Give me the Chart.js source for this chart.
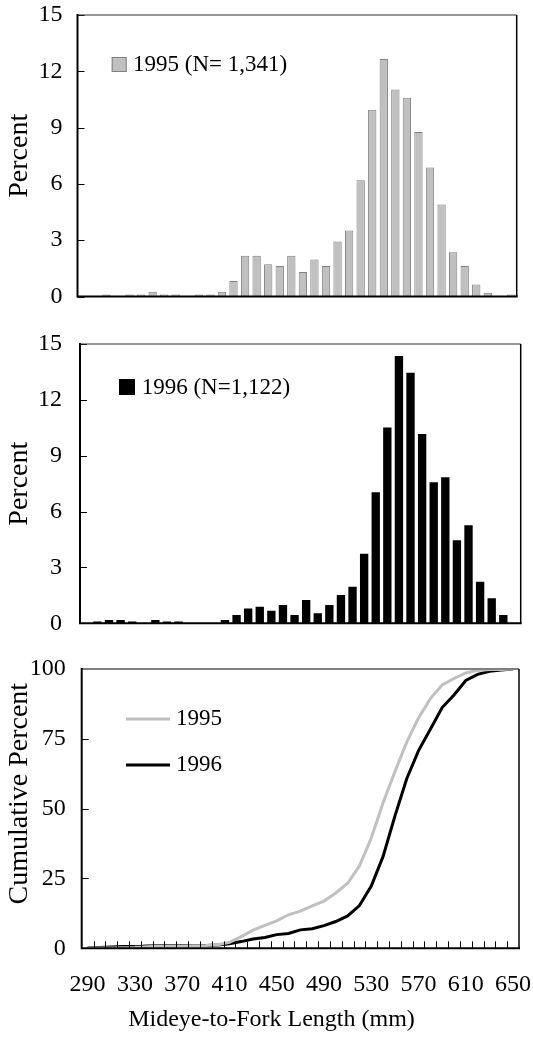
<!DOCTYPE html>
<html><head><meta charset="utf-8">
<script src="https://cdn.jsdelivr.net/npm/chart.js@4.4.0/dist/chart.umd.min.js"></script>
<style>
html,body{margin:0;padding:0;background:#fff;overflow:hidden;width:533px;height:1038px;}
.p{position:absolute;left:0;width:533px;}
</style></head><body>
<div class="p" style="top:0;height:310px"><canvas id="c1"></canvas></div>
<div class="p" style="top:330px;height:310px"><canvas id="c2"></canvas></div>
<div class="p" style="top:650px;height:388px"><canvas id="c3"></canvas></div>
<script>
// Histogram bins (mm, lower bound of 10-mm class)
const binLabels = [280,290,300,310,320,330,340,350,360,370,380,390,400,410,420,430,440,450,460,470,480,490,500,510,520,530,540,550,560,570,580,590,600,610,620,630,640,650];
const pct1995 = [0,0,0.1,0,0.1,0.1,0.25,0.1,0.1,0,0.1,0.1,0.25,0.83,2.17,2.17,1.72,1.62,2.17,1.3,1.97,1.62,2.93,3.52,6.2,9.95,12.66,11.03,10.59,8.76,6.87,4.9,2.36,1.62,0.64,0.2,0,0.1];
const pct1996 = [0,0.09,0.18,0.18,0.09,0,0.18,0.09,0.09,0,0,0,0.18,0.45,0.8,0.89,0.67,0.98,0.45,1.25,0.54,0.98,1.52,1.96,3.74,7.04,10.52,14.35,13.46,10.16,7.58,7.84,4.46,5.26,2.23,1.34,0.45,0];
// Cumulative curves
const cumLabels = [290,300,310,320,330,340,350,360,370,380,390,400,410,420,430,440,450,460,470,480,490,500,510,520,530,540,550,560,570,580,590,600,610,620,630,640,650];
const cum1995 = [0,0.1,0.1,0.2,0.3,0.6,0.7,0.8,0.8,0.9,1.0,1.3,2.1,4.2,6.5,8.2,9.8,12.0,13.3,15.2,16.9,19.8,23.3,29.5,39.5,52.1,63.2,73.8,82.5,89.4,94.3,96.6,98.6,99.5,99.8,99.8,100];
const cum1996 = [0.1,0.3,0.5,0.6,0.6,0.8,0.9,1.0,1.0,1.0,1.0,1.2,1.6,2.4,3.3,3.9,4.9,5.3,6.6,7.0,8.1,9.6,11.6,15.3,22.3,32.9,47.3,60.7,70.8,78.4,86.2,90.7,95.9,98.1,99.2,99.6,100];
const cumAxisLabels = [290,330,370,410,450,490,530,570,610,650];
const pctStep = 3, pctMax = 15;
const cumStep = 25, cumMax = 100;
const xTitleText = 'Mideye-to-Fork Length (mm)';
const yTitleCum = 'Cumulative Percent';

const FF = "'Liberation Serif','Times New Roman',serif";
const tickFont = {family: FF, size: 24};
const titleFont = {family: FF, size: 28};

const frame = {
  id: 'frame',
  afterDraw(chart, args, o) {
    const {ctx, chartArea: a} = chart;
    const ys = chart.scales.y;
    ctx.save();
    ctx.strokeStyle = '#000'; ctx.lineWidth = 1;
    ys.ticks.forEach(t => {
      const y = Math.round(ys.getPixelForValue(t.value)) + 0.5;
      ctx.beginPath(); ctx.moveTo(a.left, y); ctx.lineTo(a.left + o.tick, y); ctx.stroke();
    });
    if (o.xTicks) {
      const xs = chart.scales.x;
      for (let i = 1; i < xs.ticks.length; i++) {
        const x = Math.round((xs.getPixelForValue(i - 1) + xs.getPixelForValue(i)) / 2) + 0.5;
        ctx.beginPath(); ctx.moveTo(x, a.bottom); ctx.lineTo(x, a.bottom - o.tick); ctx.stroke();
      }
    }
    // box
    ctx.lineWidth = o.topWidth; ctx.strokeStyle = o.topColor;
    ctx.beginPath(); ctx.moveTo(a.left, a.top); ctx.lineTo(a.right, a.top); ctx.stroke();
    ctx.strokeStyle = '#000'; ctx.lineWidth = 1.5;
    ctx.beginPath(); ctx.moveTo(a.right, a.top); ctx.lineTo(a.right, a.bottom); ctx.stroke();
    ctx.lineWidth = 2;
    ctx.beginPath(); ctx.moveTo(a.left, a.top - 1); ctx.lineTo(a.left, a.bottom); ctx.lineTo(a.right + 1, a.bottom); ctx.stroke();
    // legend
    ctx.font = `23px ${FF}`; ctx.textBaseline = 'middle'; ctx.textAlign = 'left'; ctx.fillStyle = '#000';
    chart.data.datasets.forEach((ds, k) => {
      const L = o.legend[k];
      if (L.type === 'box') {
        ctx.fillStyle = ds.backgroundColor;
        ctx.fillRect(a.left + L.bx, a.top + L.by, L.size, L.size);
        if (ds.borderWidth) { ctx.strokeStyle = ds.borderColor; ctx.lineWidth = 1; ctx.strokeRect(a.left + L.bx + 0.5, a.top + L.by + 0.5, L.size - 1, L.size - 1); }
      } else {
        ctx.strokeStyle = ds.borderColor; ctx.lineWidth = ds.borderWidth;
        ctx.beginPath(); ctx.moveTo(a.left + L.x1, a.top + L.ty); ctx.lineTo(a.left + L.x2, a.top + L.ty); ctx.stroke();
      }
      ctx.fillStyle = '#000';
      ctx.fillText(ds.label, a.left + L.tx, a.top + L.ty);
    });
    if (o.xTitle) {
      ctx.font = `24px ${FF}`; ctx.textAlign = 'center'; ctx.textBaseline = 'alphabetic';
      ctx.fillText(o.xTitle.text, chart.width / 2 + o.xTitle.dx, a.bottom + o.xTitle.dy);
    }
    if (o.yTitle) {
      ctx.font = `28px ${FF}`; ctx.textAlign = 'center'; ctx.textBaseline = 'middle';
      ctx.translate(o.yTitle.x, (a.top + a.bottom) / 2 + o.yTitle.dy);
      ctx.rotate(-Math.PI / 2);
      ctx.fillText(o.yTitle.text, 0, 0);
    }
    ctx.restore();
  }
};

function barChart(id, label, data, fill, stroke, bw, pad, yw, tpad, legend) {
  return new Chart(document.getElementById(id), {
    type: 'bar',
    data: {labels: binLabels, datasets: [{label, data, backgroundColor: fill, borderColor: stroke, borderWidth: bw, barPercentage: 0.72, categoryPercentage: 1}]},
    options: {
      responsive: true, maintainAspectRatio: false, animation: false,
      layout: {padding: pad},
      plugins: {legend: {display: false}, tooltip: {enabled: false},
        frame: {tick: 7, topColor: '#333', topWidth: 1.2, xTicks: false, legend}},
      scales: {
        x: {display: false},
        y: {min: 0, max: pctMax, ticks: {stepSize: pctStep, padding: tpad, color: '#000', font: tickFont},
            grid: {display: false, drawTicks: false}, border: {display: false},
            title: {display: true, text: 'Percent', color: '#000', font: titleFont, padding: {top: 3, bottom: 0}},
            afterFit(s) { s.width = yw; s.paddingTop = 0; s.paddingBottom = 0; }}
      }
    },
    plugins: [frame]
  });
}

barChart('c1', '1995 (N= 1,341)', pct1995, '#c0c0c0', '#808080', 1,
  {left: 0, right: 16.3, top: 15, bottom: 13.5}, 77.5, 15,
  [{type: 'box', bx: 34.2, by: 42, size: 15, tx: 55.5, ty: 50}]);
barChart('c2', '1996 (N=1,122)', pct1996, '#000000', '#000000', 0,
  {left: 0, right: 12.3, top: 14, bottom: 16.7}, 80, 18,
  [{type: 'box', bx: 39, by: 35, size: 16, tx: 61.7, ty: 44}]);

new Chart(document.getElementById('c3'), {
  type: 'line',
  data: {labels: cumLabels, datasets: [
    {label: '1995', data: cum1995, borderColor: '#c0c0c0', borderWidth: 3, pointRadius: 0, tension: 0, fill: false},
    {label: '1996', data: cum1996, borderColor: '#000000', borderWidth: 3, pointRadius: 0, tension: 0, fill: false}
  ]},
  options: {
    responsive: true, maintainAspectRatio: false, animation: false,
    layout: {padding: {left: 0, right: 14, top: 19, bottom: 0}},
    plugins: {legend: {display: false}, tooltip: {enabled: false},
      frame: {tick: 7, topColor: '#808080', topWidth: 2, xTicks: true,
        legend: [{type: 'line', x1: 44.3, x2: 88.3, tx: 94.3, ty: 50}, {type: 'line', x1: 44.3, x2: 88.3, tx: 94.3, ty: 96}],
        xTitle: {text: xTitleText, dx: 5, dy: 78},
        yTitle: {text: yTitleCum, x: 20, dy: -15}}},
    scales: {
      x: {offset: true, grid: {display: false, drawTicks: false}, border: {display: false},
          ticks: {autoSkip: false, maxRotation: 0, minRotation: 0, padding: 22, color: '#000', font: tickFont,
            callback(v, i) { const l = cumLabels[i]; return cumAxisLabels.includes(l) ? String(l) : ''; }},
          afterFit(s) { s.height = 89.7; s.paddingLeft = 0; s.paddingRight = 0; }},
      y: {min: 0, max: cumMax, ticks: {stepSize: cumStep, padding: 16, color: '#000', font: tickFont},
          grid: {display: false, drawTicks: false}, border: {display: false},
          title: {display: false, text: yTitleCum},
          afterFit(s) { s.width = 81.7; s.paddingTop = 0; s.paddingBottom = 0; }}
    }
  },
  plugins: [frame]
});
</script>
</body></html>
